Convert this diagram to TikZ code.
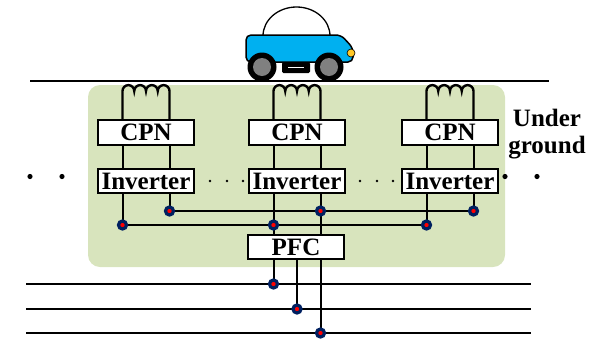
\documentclass[tikz,border=0pt]{standalone}
\usepackage{fontspec}
\setmainfont{Liberation Serif}
\usepackage{tikz}
\definecolor{soil}{RGB}{216,228,189}
\definecolor{navy}{RGB}{0,32,96}
\definecolor{carblue}{RGB}{0,176,240}
\definecolor{lamp}{RGB}{255,200,40}
\definecolor{rim}{RGB}{128,128,128}
\tikzset{
  blk/.style={draw,fill=white,line width=1.8pt,inner sep=0pt,minimum width=96pt,
    font=\fontsize{25}{27}\selectfont\bfseries},
  wire/.style={line width=2pt},
  joint/.style={circle,fill=red,draw=navy,line width=3.2pt,inner sep=0pt,minimum size=8pt},
}
\begin{document}
\begin{tikzpicture}[x=1pt,y=-1pt]
      \useasboundingbox (0,0) rectangle (600,341);
      \fill[soil,rounded corners=12pt] (88,85) rectangle (505,267);
      \draw[line width=1.4pt] (30,81)--(549,81);
      \draw[line width=1.3pt,fill=white] (263,36) arc[start angle=180,end angle=360,x radius=33.5,y radius=29];
      \draw[line width=1.5pt,fill=carblue,rounded corners=5pt] (246,62)--(246,35)--(341,35)--(353,48)--(353,62)--cycle;
      \foreach \wx in {262,329} {
        \fill[black] (\wx,67) circle[radius=14.5];
        \fill[rim] (\wx,67) circle[radius=9];
      }
      \fill[black,rounded corners=1.5pt] (282,62) rectangle (310,73);
      \draw[white,line width=1.5pt] (288,67.5)--(304,67.5);
      \draw[line width=0.6pt,fill=lamp] (351,53) circle[radius=4];
      \foreach \i/\cx in {1/146,2/297,3/450} {
        \node[blk,minimum height=25pt] (cpn\i) at (\cx,132.5) {CPN};
        \node[blk,minimum height=24pt] (inv\i) at (\cx,181) {Inverter};
        \coordinate (lo\i) at (\cx-23.5,225);
        \coordinate (hi\i) at (\cx+23.5,211);
        \draw[wire,line width=2.4pt] (cpn\i.north -| lo\i)--(\cx-23.5,91)
          arc[start angle=180,end angle=360,radius=5.875]
          arc[start angle=180,end angle=360,radius=5.875]
          arc[start angle=180,end angle=360,radius=5.875]
          arc[start angle=180,end angle=360,radius=5.875]
          --(cpn\i.north -| hi\i);
        \draw[wire] (cpn\i.south -| lo\i)--(inv\i.north -| lo\i);
        \draw[wire] (cpn\i.south -| hi\i)--(inv\i.north -| hi\i);
        \draw[wire] (inv\i.south -| lo\i)--(lo\i);
        \draw[wire] (inv\i.south -| hi\i)--(hi\i);
      }
      \draw[wire] (hi1)--(hi3);
      \draw[wire] (lo1)--(lo3);
      \node[blk,minimum height=24pt] (pfc) at (296,247) {PFC};
      \draw[wire] (lo2)--(pfc.north -| lo2);
      \draw[wire] (hi2)--(pfc.north -| hi2);
      \foreach \k/\px/\py in {1/273.5/284,2/297/309,3/320.5/333} {
        \coordinate (ph\k) at (\px,\py);
        \draw[wire] (26,\py)--(531,\py);
        \draw[wire] (pfc.south -| ph\k)--(ph\k);
        \node[joint] at (ph\k) {};
      }
      \foreach \i in {1,2,3} {
        \node[joint] at (lo\i) {};
        \node[joint] at (hi\i) {};
      }
      \foreach \dx in {210,227,243,360,377,393} \fill (\dx,181) circle[radius=1.3];
      \foreach \dx in {30,62,505,537} \fill (\dx,176.5) circle[radius=2.6];
      \node[inner sep=0pt,align=center,font=\fontsize{25}{27}\selectfont\bfseries] (ug) at (547,134) {Under\\ground};
\end{tikzpicture}
\end{document}
